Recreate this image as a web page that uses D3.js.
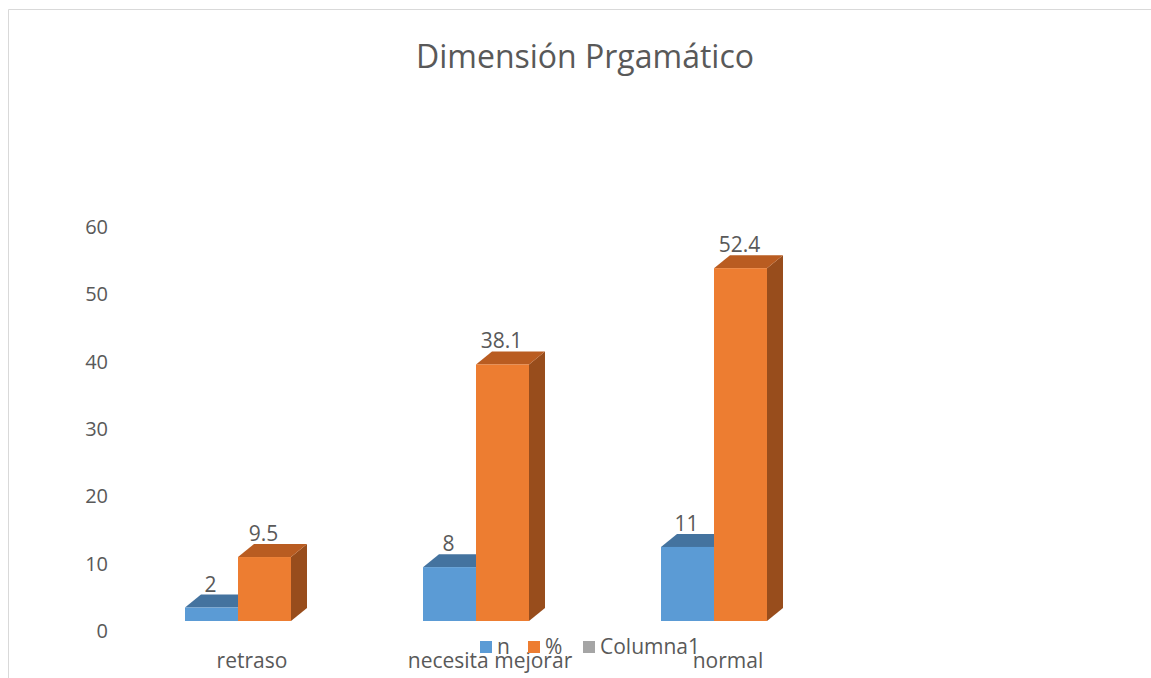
<!DOCTYPE html>
<html><head><meta charset="utf-8">
<script src="https://cdn.jsdelivr.net/npm/d3@7"></script>
<style>body{margin:0;background:#fff;} text{font-family:"Open Sans",sans-serif;fill:#595959;}</style>
</head><body>
<svg id="c" width="1151" height="678"></svg>
<script>
const categories = ["retraso", "necesita mejorar", "normal"];
const seriesNames = ["n", "%", "Columna1"];
const nValues = [2, 8, 11];
const pctValues = [9.5, 38.1, 52.4];
const col1Values = [null, null, null];
const yTicks = [0, 10, 20, 30, 40, 50, 60];
const title = "Dimensión Prgamático";

const colors = {
  "n": {front: "#5B9BD5", top: "#44739F", side: "#3E6B96"},
  "%": {front: "#ED7D31", top: "#B95C21", side: "#984D1C"},
  "Columna1": {front: "#A5A5A5", top: "#7C7C7C", side: "#6A6A6A"}
};
const svg = d3.select("#c");

// frame
svg.append("line").attr("x1", 8.5).attr("x2", 1151).attr("y1", 9.5).attr("y2", 9.5).attr("stroke", "#d9d9d9");
svg.append("line").attr("x1", 8.5).attr("x2", 8.5).attr("y1", 9.5).attr("y2", 678).attr("stroke", "#d9d9d9");

svg.append("text").attr("x", 585).attr("y", 68).attr("text-anchor", "middle")
  .style("font-size", "32px").text(title);

const y = d3.scaleLinear().domain([0, 60]).range([621, 217]);
const x0 = d3.scaleBand().domain(categories).range([133, 847]);
const x1 = d3.scaleBand().domain(seriesNames).range([52, 52 + 159]);
const dx = 16, dy = 13;

// y axis labels
svg.append("g").selectAll("text").data(yTicks).join("text")
  .attr("x", 108).attr("y", d => y(d) + 17).attr("text-anchor", "end")
  .style("font-size", "20px").text(d => d);

const rows = categories.map((c, i) => ({c, vals: [
  {s: "n", v: nValues[i]}, {s: "%", v: pctValues[i]}, {s: "Columna1", v: col1Values[i]}]}));

rows.forEach(r => {
  r.vals.forEach(d => {
    if (d.v == null) return;
    const xa = x0(r.c) + x1(d.s), xb = xa + x1.bandwidth();
    const yt = y(d.v), yb = y(0);
    const col = colors[d.s];
    const g = svg.append("g");
    g.append("path").attr("d", `M${xb},${yt}L${xb+dx},${yt-dy}L${xb+dx},${yb-dy}L${xb},${yb}Z`).attr("fill", col.side);
    g.append("path").attr("d", `M${xa},${yt}L${xb},${yt}L${xb+dx},${yt-dy}L${xa+dx},${yt-dy}Z`).attr("fill", col.top);
    g.append("rect").attr("x", xa).attr("y", yt).attr("width", xb - xa).attr("height", yb - yt).attr("fill", col.front);
    svg.append("text").attr("x", (xa + xb) / 2 - 1).attr("y", yt - 16).attr("text-anchor", "middle")
      .style("font-size", "21px").text(d.v);
  });
});

// category labels
svg.append("g").selectAll("text").data(categories).join("text")
  .attr("x", d => x0(d) + x0.bandwidth() / 2).attr("y", 668).attr("text-anchor", "middle")
  .style("font-size", "21px").text(d => d);

// legend
const legX = [480, 528, 583];
seriesNames.forEach((s, i) => {
  svg.append("rect").attr("x", legX[i]).attr("y", 641).attr("width", 12).attr("height", 12).attr("fill", colors[s].front);
  svg.append("text").attr("x", legX[i] + 17).attr("y", 654).style("font-size", "21px").text(s);
});
</script>
</body></html>
